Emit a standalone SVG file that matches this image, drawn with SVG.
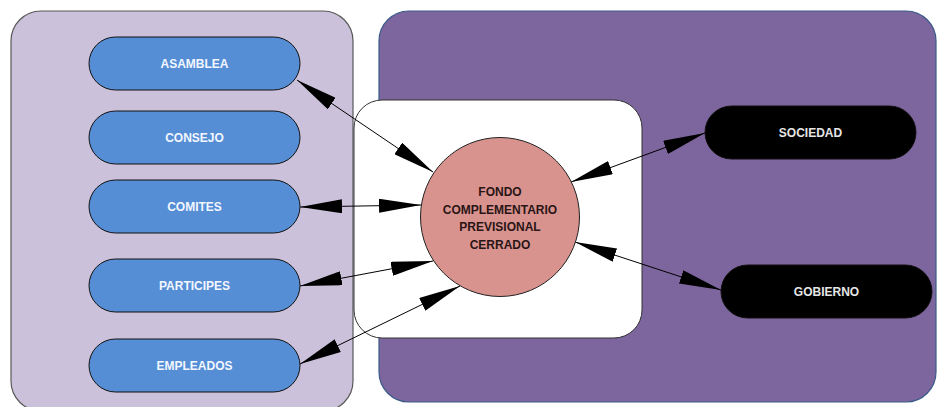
<svg xmlns="http://www.w3.org/2000/svg" width="938" height="407" viewBox="0 0 938 407">
<style>
.pill{fill:#558ED5;stroke:#111;stroke-width:1}
.dark{fill:#000;stroke:#111;stroke-width:1}
.lt{font-family:"Liberation Sans",Arial,sans-serif;font-weight:bold;font-size:12px;fill:#F2F6FF;text-anchor:middle}
.dt{font-family:"Liberation Sans",Arial,sans-serif;font-weight:bold;font-size:12px;fill:#E6E6E6;text-anchor:middle}
.ct{font-family:"Liberation Sans",Arial,sans-serif;font-weight:bold;font-size:12px;fill:#2A1515;text-anchor:middle}
.edge{stroke:#000;stroke-width:1;fill:none;marker-start:url(#ah);marker-end:url(#ah)}
</style>
<defs>
<marker id="ah" markerUnits="userSpaceOnUse" markerWidth="42" markerHeight="14" refX="42" refY="7" orient="auto-start-reverse" viewBox="0 0 42 14">
<path d="M0,0 L42,7 L0,14 z" fill="#000"/>
</marker>
</defs>
<rect width="938" height="407" fill="#fff"/>
<g id="panel-left"><rect x="11" y="11" width="342" height="400" rx="30" fill="#CCC1DA" stroke="#595959" stroke-width="1.2"/></g>
<g id="panel-right"><rect x="379" y="11" width="557" height="391" rx="30" fill="#7D659D" stroke="#3B5A8A" stroke-width="1.2"/></g>
<g id="panel-center"><rect x="354" y="100" width="288" height="238" rx="28" fill="#fff" stroke="#333" stroke-width="1"/></g>
<g id="connectors">
<line class="edge" x1="297" y1="80" x2="433" y2="172"/>
<line class="edge" x1="300" y1="207" x2="421" y2="205"/>
<line class="edge" x1="300" y1="286" x2="433" y2="261"/>
<line class="edge" x1="300" y1="364" x2="460" y2="286"/>
<line class="edge" x1="705" y1="133" x2="571" y2="182"/>
<line class="edge" x1="721" y1="290" x2="575" y2="242"/>
</g>
<g id="asamblea"><rect class="pill" x="89" y="37" width="211" height="53" rx="26.5"/><text class="lt" x="194.5" y="68">ASAMBLEA</text></g>
<g id="consejo"><rect class="pill" x="89" y="111" width="211" height="53" rx="26.5"/><text class="lt" x="194.5" y="142">CONSEJO</text></g>
<g id="comites"><rect class="pill" x="89" y="180" width="211" height="53" rx="26.5"/><text class="lt" x="194.5" y="211">COMITES</text></g>
<g id="participes"><rect class="pill" x="89" y="259" width="211" height="53" rx="26.5"/><text class="lt" x="194.5" y="290">PARTICIPES</text></g>
<g id="empleados"><rect class="pill" x="89" y="339" width="211" height="53" rx="26.5"/><text class="lt" x="194.5" y="370">EMPLEADOS</text></g>
<g id="fondo"><circle cx="500" cy="217" r="79.5" fill="#D9938F" stroke="#222" stroke-width="1"/>
<text class="ct" x="500" y="196">FONDO</text>
<text class="ct" x="500" y="213.5">COMPLEMENTARIO</text>
<text class="ct" x="500" y="231">PREVISIONAL</text>
<text class="ct" x="500" y="248.5">CERRADO</text></g>
<g id="sociedad"><rect class="dark" x="705" y="106" width="211" height="53" rx="26.5"/><text class="dt" x="810.5" y="137">SOCIEDAD</text></g>
<g id="gobierno"><rect class="dark" x="721" y="265" width="211" height="53" rx="26.5"/><text class="dt" x="826.5" y="296">GOBIERNO</text></g>
</svg>
